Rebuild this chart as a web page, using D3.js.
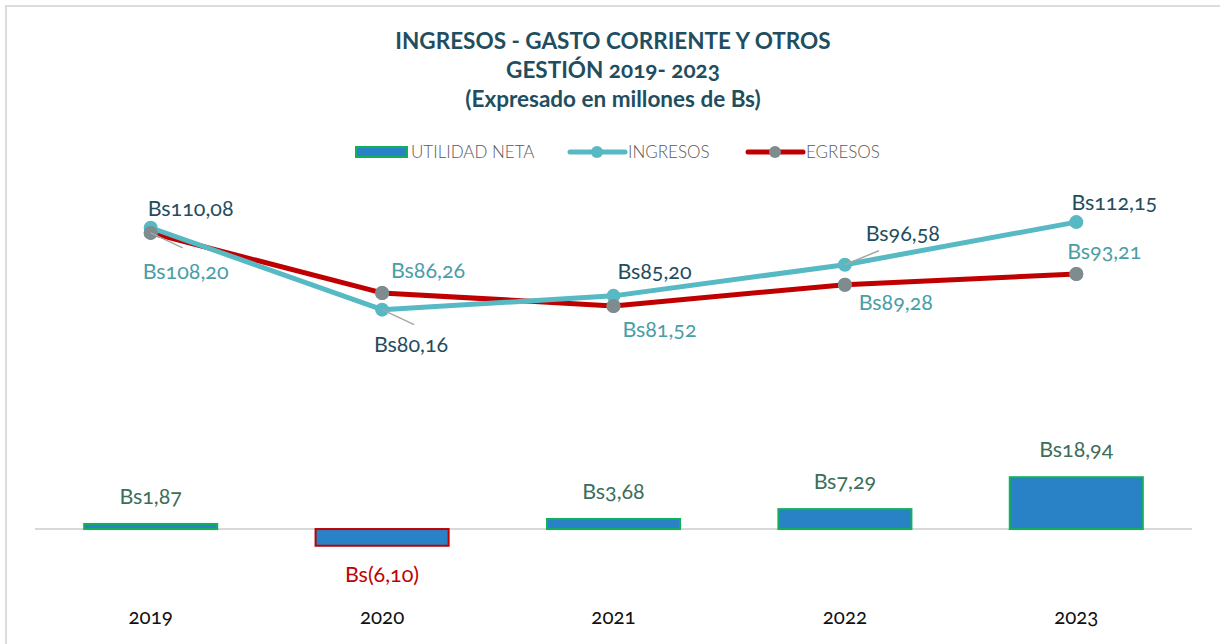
<!DOCTYPE html>
<html>
<head>
<meta charset="utf-8">
<script src="https://cdn.jsdelivr.net/npm/d3@7"></script>
<style>
  html, body { margin: 0; padding: 0; background: #fff; }
  svg { display: block; font-family: Lato, "Open Sans", sans-serif; font-variant-numeric: oldstyle-nums; }
</style>
</head>
<body>
<div class="chart"></div>
<script>
const years     = ['2019', '2020', '2021', '2022', '2023'];
const utilidad  = [1.87, -6.10, 3.68, 7.29, 18.94];
const ingresos  = [110.08, 80.16, 85.20, 96.58, 112.15];
const egresos   = [108.20, 86.26, 81.52, 89.28, 93.21];
const titles    = ['INGRESOS - GASTO CORRIENTE Y OTROS', 'GESTIÓN 2019- 2023', '(Expresado en millones de Bs)'];
const legendTxt = ['UTILIDAD NETA', 'INGRESOS', 'EGRESOS'];

// label placement (dx, dy from point) and leader flag
const ingLabel = [[40, -19, false], [29, 35, true], [41, -24, false], [58, -31, true], [38, -19, false]];
const egrLabel = [[35, 39, true], [46, -22, false], [46, 24, false], [51, 18, false], [28, -22, false]];

const colors = {
  title:   '#1f4e60',
  bar:     '#2a82c6',
  barPos:  '#12b05a',
  barNeg:  '#c00000',
  ing:     '#57b9c3',
  egr:     '#c00000',
  marker:  '#7f8c8f',
  ingTxt:  '#1f4e60',
  egrTxt:  '#4a9ea6',
  barTxt:  '#3c6e5a',
  negTxt:  '#c00000',
  axis:    '#d9d9d9'
};

const fmt = v => {
  const s = Math.abs(v).toFixed(2).replace('.', ',');
  return v < 0 ? `Bs(${s})` : `Bs${s}`;
};

const width = 1220, height = 644;
const svg = d3.select('.chart').append('svg').attr('width', width).attr('height', height);

// frame
svg.append('line').attr('x1', 6).attr('x2', 6).attr('y1', 5).attr('y2', height).attr('stroke', '#dcdcdc').attr('stroke-width', 2);
svg.append('line').attr('x1', 5).attr('x2', width).attr('y1', 6).attr('y2', 6).attr('stroke', '#dcdcdc').attr('stroke-width', 2);

// titles
svg.append('g').selectAll('text').data(titles).enter().append('text')
  .attr('x', 613)
  .attr('y', (d, i) => 49 + i * 29)
  .attr('text-anchor', 'middle')
  .attr('font-size', 22.5)
  .attr('font-weight', 'bold')
  .attr('fill', colors.title)
  .text(d => d);

const x = d3.scaleBand().domain(years).range([35, 1192]).paddingInner(0.425).paddingOuter(0.2125);
const y = d3.scaleLinear().domain([-20, 120]).range([583.8, 200.6]);
const cx = d => x(d) + x.bandwidth() / 2;

// axis line at 0
svg.append('line')
  .attr('x1', 35).attr('x2', 1192)
  .attr('y1', y(0)).attr('y2', y(0))
  .attr('stroke', colors.axis).attr('stroke-width', 2);

// year labels
svg.append('g').selectAll('text').data(years).enter().append('text')
  .attr('x', d => cx(d))
  .attr('y', 624)
  .attr('text-anchor', 'middle')
  .attr('font-size', 20.5)
  .attr('fill', '#111')
  .text(d => d);

// bars
const bars = years.map((yr, i) => ({ yr, v: utilidad[i] }));
svg.append('g').selectAll('rect').data(bars).enter().append('rect')
  .attr('x', d => x(d.yr))
  .attr('width', x.bandwidth())
  .attr('y', d => y(Math.max(0, d.v)))
  .attr('height', d => Math.abs(y(d.v) - y(0)))
  .attr('fill', colors.bar)
  .attr('stroke', d => d.v < 0 ? colors.barNeg : colors.barPos)
  .attr('stroke-width', 2);

svg.append('g').selectAll('text').data(bars).enter().append('text')
  .attr('x', d => cx(d.yr))
  .attr('y', d => d.v < 0 ? y(d.v) + 36 : y(d.v) - 20)
  .attr('text-anchor', 'middle')
  .attr('font-size', 21.5)
  .attr('fill', d => d.v < 0 ? colors.negTxt : colors.barTxt)
  .text(d => fmt(d.v));

// lines
const line = d3.line().x(d => cx(d.yr)).y(d => y(d.v));
const ingData = years.map((yr, i) => ({ yr, v: ingresos[i] }));
const egrData = years.map((yr, i) => ({ yr, v: egresos[i] }));

function drawSeries(data, stroke, markerFill) {
  const g = svg.append('g');
  g.append('path').datum(data)
    .attr('d', line)
    .attr('fill', 'none')
    .attr('stroke', stroke)
    .attr('stroke-width', 5)
    .attr('stroke-linejoin', 'round');
  g.selectAll('circle').data(data).enter().append('circle')
    .attr('cx', d => cx(d.yr))
    .attr('cy', d => y(d.v))
    .attr('r', 7)
    .attr('fill', markerFill);
  return g;
}

function drawLabels(data, labels, txtColor) {
  const g = svg.append('g');
  data.forEach((d, i) => {
    const [dx, dy, leader] = labels[i];
    const px = cx(d.yr), py = y(d.v);
    if (leader) {
      g.append('line')
        .attr('x1', px).attr('y1', py)
        .attr('x2', dy > 0 ? px + 32 : px + 34).attr('y2', dy > 0 ? py + 15 : py - 14)
        .attr('stroke', '#a6a6a6').attr('stroke-width', 1.5);
    }
    g.append('text')
      .attr('x', px + dx)
      .attr('y', py + dy + 7)
      .attr('text-anchor', 'middle')
      .attr('font-size', 21.5)
      .attr('fill', txtColor)
      .text(fmt(d.v));
  });
}

drawSeries(egrData, colors.egr, colors.marker);
drawSeries(ingData, colors.ing, colors.ing);
// egresos markers drawn over ingresos where they overlap
svg.append('g').selectAll('circle').data(egrData).enter().append('circle')
  .attr('cx', d => cx(d.yr)).attr('cy', d => y(d.v)).attr('r', 7).attr('fill', colors.marker);

drawLabels(ingData, ingLabel, colors.ingTxt);
drawLabels(egrData, egrLabel, colors.egrTxt);

// legend
const lg = svg.append('g').attr('font-size', 17).attr('font-weight', 300).attr('fill', '#595959');
lg.append('rect').attr('x', 356).attr('y', 147).attr('width', 51).attr('height', 10)
  .attr('fill', colors.bar).attr('stroke', colors.barPos).attr('stroke-width', 2);
lg.append('text').attr('x', 411).attr('y', 158).text(legendTxt[0]);

lg.append('line').attr('x1', 570).attr('x2', 625).attr('y1', 152).attr('y2', 152)
  .attr('stroke', colors.ing).attr('stroke-width', 5).attr('stroke-linecap', 'round');
lg.append('circle').attr('cx', 597).attr('cy', 152).attr('r', 6).attr('fill', colors.ing);
lg.append('text').attr('x', 628).attr('y', 158).text(legendTxt[1]);

lg.append('line').attr('x1', 748).attr('x2', 803).attr('y1', 152).attr('y2', 152)
  .attr('stroke', colors.egr).attr('stroke-width', 5).attr('stroke-linecap', 'round');
lg.append('circle').attr('cx', 775).attr('cy', 152).attr('r', 6).attr('fill', colors.marker);
lg.append('text').attr('x', 806).attr('y', 158).text(legendTxt[2]);
</script>
</body>
</html>
